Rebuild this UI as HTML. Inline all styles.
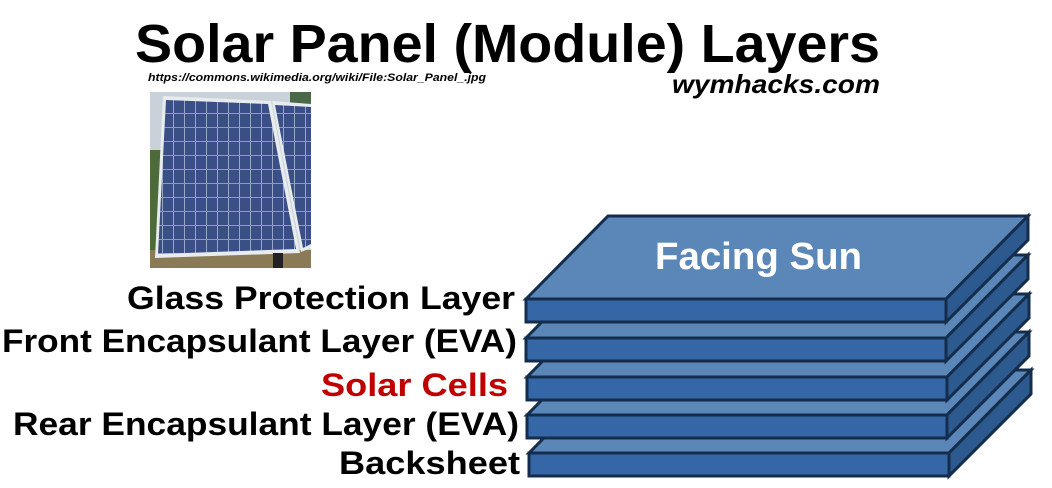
<!DOCTYPE html>
<html><head><meta charset="utf-8"><style>
html,body{margin:0;padding:0;background:#fff;width:1052px;height:488px;overflow:hidden}
svg{display:block}
text{font-family:"Liberation Sans",sans-serif;font-weight:bold}
</style></head><body>
<svg width="1052" height="488" viewBox="0 0 1052 488" xmlns="http://www.w3.org/2000/svg">
<defs>
<pattern id="cells" x="163" y="100" width="11" height="14" patternUnits="userSpaceOnUse">
<rect width="11" height="14" fill="#3a4f85"/>
<rect x="10" width="1" height="14" fill="#9aa6c6"/>
<rect y="13" width="11" height="1" fill="#8d9abd"/>
</pattern>
</defs>
<text x="135" y="62" font-size="54" textLength="745" lengthAdjust="spacingAndGlyphs" fill="#000">Solar Panel (Module) Layers</text>
<text x="148" y="81" font-size="11" font-style="italic" textLength="338" lengthAdjust="spacingAndGlyphs">https://commons.wikimedia.org/wiki/File:Solar_Panel_.jpg</text>
<text x="672" y="93" font-size="26" font-style="italic" textLength="208" lengthAdjust="spacingAndGlyphs">wymhacks.com</text>
<!-- photo -->
<rect x="150" y="92" width="161" height="176" fill="#c9d2d8"/>
<rect x="150" y="150" width="14" height="118" fill="#4d6a3a"/>
<rect x="290" y="92" width="21" height="14" fill="#4a6a45"/>
<rect x="150" y="250" width="161" height="18" fill="#8a7a55"/>
<polygon points="163,96 271,101 300,253 155,258" fill="#e8ecef"/>
<polygon points="166,100 268,104 296,249 158,254" fill="url(#cells)"/>
<polygon points="272,101 311,104 311,248 301,252" fill="#e8ecef"/>
<polygon points="275,105 311,107 311,244 303,248" fill="url(#cells)"/>
<rect x="273" y="253" width="10" height="15" fill="#222"/>
<!-- slabs -->
<g stroke="#142d4c" stroke-width="3" stroke-linejoin="miter">
<g id="s5" transform="translate(2,154)">
<polygon points="527,299 609,216 1029,216 947,299" fill="#5b86b8"/>
<polygon points="947,299 1029,216 1029,240 947,322" fill="#2d5a8e"/>
<rect x="527" y="299" width="420" height="23" fill="#3567a6"/>
</g>
<g transform="translate(0,116)">
<polygon points="527,299 609,216 1029,216 947,299" fill="#5b86b8"/>
<polygon points="947,299 1029,216 1029,240 947,322" fill="#2d5a8e"/>
<rect x="527" y="299" width="420" height="23" fill="#3567a6"/>
</g>
<g transform="translate(0,78)">
<polygon points="527,299 609,216 1029,216 947,299" fill="#5b86b8"/>
<polygon points="947,299 1029,216 1029,240 947,322" fill="#2d5a8e"/>
<rect x="527" y="299" width="420" height="23" fill="#3567a6"/>
</g>
<g transform="translate(-1,39)">
<polygon points="527,299 609,216 1029,216 947,299" fill="#5b86b8"/>
<polygon points="947,299 1029,216 1029,240 947,322" fill="#2d5a8e"/>
<rect x="527" y="299" width="420" height="23" fill="#3567a6"/>
</g>
<g transform="translate(-1,0)">
<polygon points="527,299 609,216 1029,216 947,299" fill="#5b86b8"/>
<polygon points="947,299 1029,216 1029,240 947,322" fill="#2d5a8e"/>
<rect x="527" y="299" width="420" height="23" fill="#3567a6"/>
</g>
</g>
<text x="655" y="269" font-size="38" fill="#fff" textLength="207" lengthAdjust="spacingAndGlyphs">Facing Sun</text>
<text x="127" y="309" font-size="32" textLength="388" lengthAdjust="spacingAndGlyphs">Glass Protection Layer</text>
<text x="2" y="352" font-size="32" textLength="515" lengthAdjust="spacingAndGlyphs">Front Encapsulant Layer (EVA)</text>
<text x="321" y="396" font-size="32" fill="#c00000" textLength="187" lengthAdjust="spacingAndGlyphs">Solar Cells</text>
<text x="13" y="435" font-size="32" textLength="506" lengthAdjust="spacingAndGlyphs">Rear Encapsulant Layer (EVA)</text>
<text x="339" y="474" font-size="32" textLength="181" lengthAdjust="spacingAndGlyphs">Backsheet</text>
</svg>
</body></html>
